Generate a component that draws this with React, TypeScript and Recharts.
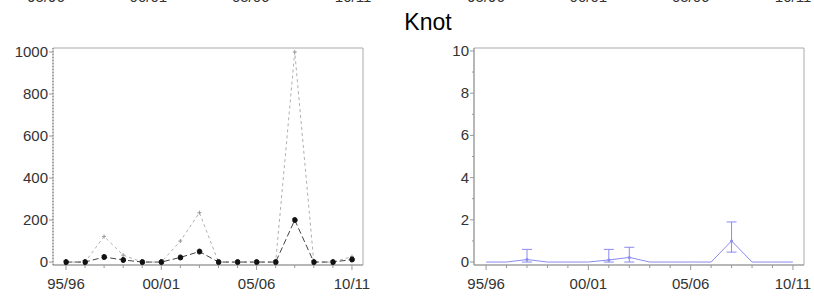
import React from 'react';
import { ComposedChart, Line, Scatter, ErrorBar, XAxis, YAxis, ReferenceArea } from 'recharts';

// seasons on the x axis
const seasons = ['95/96', '96/97', '97/98', '98/99', '99/00', '00/01', '01/02', '02/03', '03/04', '04/05', '05/06', '06/07', '07/08', '08/09', '09/10', '10/11'];

// left panel: counts and upper limits
const counts = [0, 0, 24, 10, 0, 0, 22, 50, 0, 0, 0, 0, 200, 0, 0, 12];
const upperLimits = [0, 0, 122, 33, 0, 0, 100, 235, 0, 0, 0, 0, 1000, 0, 0, 26];
const leftTicks = [0, 200, 400, 600, 800, 1000];

// right panel: means with error ranges (low, high)
const means = [0, 0, 0.12, 0, 0, 0, 0.1, 0.22, 0, 0, 0, 0, 1.0, 0, 0, 0];
const lows = [0, 0, 0, 0, 0, 0, 0, 0, 0, 0, 0, 0, 0.47, 0, 0, 0];
const highs = [0, 0, 0.6, 0, 0, 0, 0.6, 0.7, 0, 0, 0, 0, 1.9, 0, 0, 0];
const rightTicks = [0, 1, 2, 3, 4, 5, 6, 7, 8, 9, 10];

const FONT = '"Liberation Sans", Arial, sans-serif';
const BLUE = '#8a8af0';
const xTicks = seasons.map((_, i) => i);

const leftData = seasons.map((s, i) => ({ i, season: s, count: counts[i], upper: upperLimits[i] }));
const rightData = seasons.map((s, i) => ({ i, season: s, mean: means[i] }));
const errData = rightData
  .filter((d) => highs[d.i] > 0)
  .map((d) => ({ ...d, err: [d.mean - lows[d.i], highs[d.i] - d.mean] }));

const XTick = (props: any) => {
  const { x, y, payload } = props;
  const major = payload.value % 5 === 0;
  return (
    <g>
      <line x1={x} x2={x} y1={y} y2={y + (major ? 5 : 3)} stroke="#999" />
      {major && (
        <text x={x} y={y + 24} textAnchor="middle" fontSize={15} fontFamily={FONT} fill="#333">
          {seasons[payload.value]}
        </text>
      )}
    </g>
  );
};

const LeftYTick = (props: any) => {
  const { x, y, payload } = props;
  return (
    <g>
      <line x1={x} x2={x - 4} y1={y} y2={y} stroke="#999" />
      <text x={x - 5} y={y + 5} textAnchor="end" fontSize={15} fontFamily={FONT} fill="#333">
        {payload.value}
      </text>
    </g>
  );
};

const RightYTick = (props: any) => {
  const { x, y, payload } = props;
  const major = payload.value % 2 === 0;
  return (
    <g>
      <line x1={x} x2={x - (major ? 4 : 2)} y1={y} y2={y} stroke="#999" />
      {major && (
        <text x={x - 5} y={y + 5} textAnchor="end" fontSize={15} fontFamily={FONT} fill="#333">
          {payload.value}
        </text>
      )}
    </g>
  );
};

const PlusDot = (props: any) => {
  const { cx, cy } = props;
  if (cx == null || cy == null) return null;
  return (
    <g stroke="#999" strokeWidth={1}>
      <line x1={cx - 2} x2={cx + 2} y1={cy} y2={cy} />
      <line x1={cx} x2={cx} y1={cy - 2} y2={cy + 2} />
    </g>
  );
};

const SmallDot = (props: any) => <circle cx={props.cx} cy={props.cy} r={1.5} fill={BLUE} />;

const leftX: [number, number] = [-0.68, 15.58];
const leftY: [number, number] = [-14, 1019];
const rightX: [number, number] = [-0.59, 15.54];
const rightY: [number, number] = [-0.14, 10.14];

export default function App() {
  return (
    <div style={{ position: 'absolute', left: 0, top: 0, width: 814, height: 297, background: '#fff', fontFamily: FONT }}>
      <svg width={814} height={297} style={{ position: 'absolute', left: 0, top: 0 }}>
        {[0, 5, 10, 15].map((k) => (
          <text key={'a' + k} x={46 + k * 20.47} y={2} textAnchor="middle" fontSize={15} fontFamily={FONT} fill="#333">
            {seasons[k]}
          </text>
        ))}
        {[0, 5, 10, 15].map((k) => (
          <text key={'b' + k} x={486 + k * 20.47} y={2} textAnchor="middle" fontSize={15} fontFamily={FONT} fill="#333">
            {seasons[k]}
          </text>
        ))}
        <text x={428} y={30} textAnchor="middle" fontSize={23} fontFamily={FONT} fill="#000">
          Knot
        </text>
      </svg>

      <div style={{ position: 'absolute', left: 0, top: 0 }}>
        <ComposedChart width={407} height={297} data={leftData} margin={{ top: 48, right: 44, bottom: 0, left: 0 }}>
          <ReferenceArea x1={leftX[0]} x2={leftX[1]} y1={leftY[0]} y2={leftY[1]} fill="none" stroke="#aaa" />
          <XAxis
            dataKey="i"
            type="number"
            domain={leftX}
            ticks={xTicks}
            interval={0}
            allowDataOverflow
            height={32}
            tickSize={0}
            tickMargin={0}
            tickLine={false}
            axisLine={{ stroke: '#999' }}
            tick={<XTick />}
          />
          <YAxis
            type="number"
            domain={leftY}
            ticks={leftTicks}
            interval={0}
            allowDataOverflow
            width={53}
            tickSize={0}
            tickMargin={0}
            tickLine={false}
            axisLine={{ stroke: '#777', strokeDasharray: '1 2' }}
            tick={<LeftYTick />}
          />
          <Line dataKey="upper" stroke="#b0b0b0" strokeDasharray="3 3" strokeWidth={1} dot={<PlusDot />} isAnimationActive={false} />
          <Line dataKey="count" stroke="#444" strokeDasharray="6 3" strokeWidth={1} dot={{ r: 2.5, fill: '#111', stroke: '#111' }} isAnimationActive={false} />
        </ComposedChart>
      </div>

      <div style={{ position: 'absolute', left: 407, top: 0 }}>
        <ComposedChart width={407} height={297} data={rightData} margin={{ top: 48, right: 10, bottom: 0, left: 0 }}>
          <ReferenceArea x1={rightX[0]} x2={rightX[1]} y1={rightY[0]} y2={rightY[1]} fill="none" stroke="#aaa" />
          <XAxis
            dataKey="i"
            type="number"
            domain={rightX}
            ticks={xTicks}
            interval={0}
            allowDataOverflow
            height={32}
            tickSize={0}
            tickMargin={0}
            tickLine={false}
            axisLine={{ stroke: '#999' }}
            tick={<XTick />}
          />
          <YAxis
            type="number"
            domain={rightY}
            ticks={rightTicks}
            interval={0}
            allowDataOverflow
            width={67}
            tickSize={0}
            tickMargin={0}
            tickLine={false}
            axisLine={{ stroke: '#999' }}
            tick={<RightYTick />}
          />
          <Line dataKey="mean" stroke={BLUE} strokeWidth={1} dot={false} isAnimationActive={false} />
          <Scatter data={errData} dataKey="mean" shape={<SmallDot />} isAnimationActive={false}>
            <ErrorBar dataKey="err" direction="y" width={5} stroke={BLUE} strokeWidth={1} />
          </Scatter>
        </ComposedChart>
      </div>
    </div>
  );
}
